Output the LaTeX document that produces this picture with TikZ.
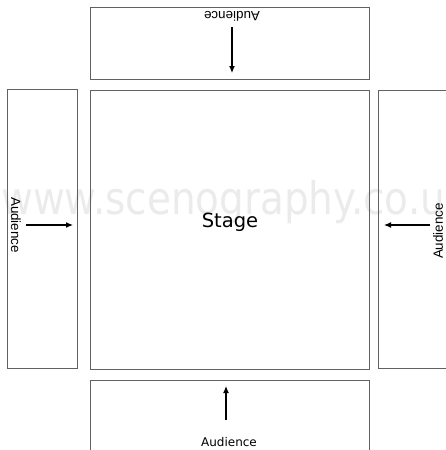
\documentclass[tikz,border=0pt]{standalone}
\usepackage{fontspec}
\setmainfont{Liberation Sans}
\newfontfamily\dejavu{DejaVu Sans}
\usetikzlibrary{arrows.meta}
\begin{document}
\begin{tikzpicture}[x=1pt,y=-1pt,
  box/.style={draw=black!62, line width=1pt, rectangle, inner sep=0pt},
  arr/.style={draw=black, line width=1.2pt, -{Latex[length=7pt,width=6pt]}},
  aud/.style={inner sep=0pt, font=\fontsize{13.4}{16}\selectfont, text=black},
  audb/.style={inner sep=0pt, font=\dejavu\fontsize{12}{14}\selectfont, text=black}]
\useasboundingbox (0,0) rectangle (446,450);
\clip (0,0) rectangle (446,450);
% watermark
\node[inner sep=0pt, anchor=base west, text=black!8, xscale=0.865,
  font=\dejavu\fontsize{45}{54}\selectfont] (wm) at (1,214) {www.scenography.co.u};
% boxes
\node[box, minimum width=279pt, minimum height=72pt] (topbox) at (229.5,43) {};
\node[box, minimum width=279pt, minimum height=279pt] (stage) at (229.5,229.5) {};
\node[box, minimum width=70pt, minimum height=279pt] (leftbox) at (42,229) {};
\node[box, minimum width=72pt, minimum height=278pt] (rightbox) at (414,229) {};
\node[box, minimum width=279pt, minimum height=80pt] (botbox) at (229.5,420) {};
% stage label
\node[inner sep=0pt, font=\dejavu\fontsize{19.5}{23}\selectfont] (stagelbl) at (230,222) {Stage};
% audience labels
\node[aud, rotate=180] (topaud) at (232,16) {Audience};
\node[aud, rotate=-90] (leftaud) at (16,225) {Audience};
\node[aud, rotate=90] (rightaud) at (438,231) {Audience};
\node[audb, anchor=base] (botaud) at (229,446) {Audience};
% arrow coordinates
\coordinate (ts) at (232,27);  \coordinate (te) at (232,73);
\coordinate (ls) at (26,225);  \coordinate (le) at (73,225);
\coordinate (rs) at (430,225); \coordinate (re) at (384,225);
\coordinate (bs) at (226,420); \coordinate (be) at (226,386);
\draw[arr] (ts) -- (te);
\draw[arr] (ls) -- (le);
\draw[arr] (rs) -- (re);
\draw[arr] (bs) -- (be);
\end{tikzpicture}
\end{document}
